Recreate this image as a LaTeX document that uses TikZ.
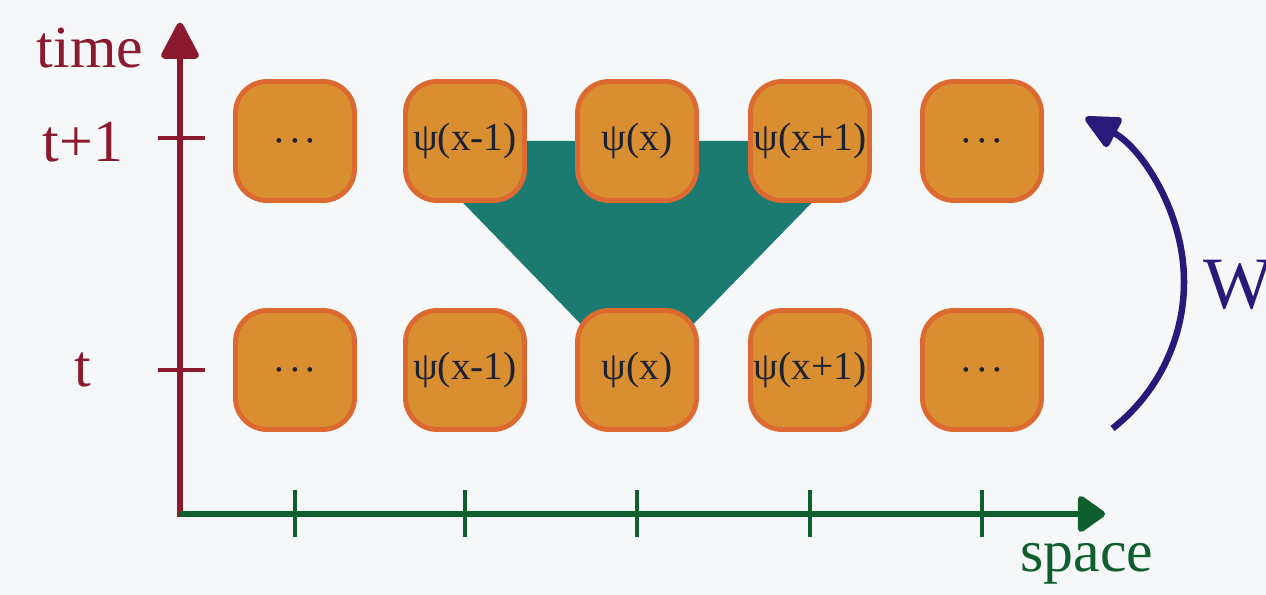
\documentclass[tikz,border=0pt]{standalone}
\usepackage{fontspec}
\setmainfont{Liberation Serif}
\usetikzlibrary{arrows.meta}
\definecolor{paper}{HTML}{F6F7F9}
\definecolor{timered}{HTML}{8B1A2E}
\definecolor{spacegreen}{HTML}{0F5F2E}
\definecolor{cellfill}{HTML}{D98E32}
\definecolor{celledge}{HTML}{DC6A30}
\definecolor{wedge}{HTML}{1C7B70}
\definecolor{walk}{HTML}{28197A}
\definecolor{ink}{HTML}{1E2230}
\pgfdeclarelayer{back}
\pgfsetlayers{back,main}
\newcommand{\celldots}{{\fontsize{17}{20}\selectfont\boldmath$\cdots$}}
\tikzset{
  cell/.style={draw=celledge, fill=cellfill, line width=2.8pt, rounded corners=18pt,
    minimum size=2.38cm, inner sep=0pt, text=ink, font=\fontsize{22.5}{26}\selectfont},
  axislabel/.style={font=\fontsize{34}{38}\selectfont},
  tick/.style={line width=2.8pt}
}

\begin{document}
\begin{tikzpicture}
\useasboundingbox (0,0) rectangle (25.32,11.9);
\coordinate (origin) at (3.6,1.62);
\coordinate (timeend) at (3.6,11.45);
\coordinate (spaceend) at (22.1,1.62);
% axes
\draw[timered, line width=3.8pt, -{Triangle[length=23pt,width=23pt,round]}] (3.6,1.55) -- (timeend);
\draw[spacegreen, line width=3.8pt, -{Triangle[length=17pt,width=23pt,round]}] (origin) -- (spaceend);
\node[axislabel, text=timered] (tlab) at (1.8,10.94) {time};
\node[axislabel, text=timered] (t1lab) at (1.66,9.06) {t+1};
\node[axislabel, text=timered] (t0lab) at (1.66,4.5) {t};
\node[axislabel, text=spacegreen] (slab) at (21.74,0.62) {space};
% ticks
\draw[timered, tick] (3.16,9.14) -- (4.1,9.14);
\draw[timered, tick] (3.16,4.5) -- (4.1,4.5);
\draw[spacegreen, tick, line width=1.8pt] (5.9,1.16) -- (5.9,2.1);
\draw[spacegreen, tick, line width=1.8pt] (9.3,1.16) -- (9.3,2.1);
\draw[spacegreen, tick, line width=1.8pt] (12.74,1.16) -- (12.74,2.1);
\draw[spacegreen, tick, line width=1.8pt] (16.2,1.16) -- (16.2,2.1);
\draw[spacegreen, tick, line width=1.8pt] (19.64,1.16) -- (19.64,2.1);
% cells at time t+1
\node[cell] (u1) at (5.9,9.08) {\celldots};
\node[cell] (u2) at (9.3,9.08) {ψ(x-1)};
\node[cell] (u3) at (12.74,9.08) {ψ(x)};
\node[cell] (u4) at (16.2,9.08) {ψ(x+1)};
\node[cell] (u5) at (19.64,9.08) {\celldots};
% cells at time t
\node[cell] (d1) at (5.9,4.5) {\celldots};
\node[cell] (d2) at (9.3,4.5) {ψ(x-1)};
\node[cell] (d3) at (12.74,4.5) {ψ(x)};
\node[cell] (d4) at (16.2,4.5) {ψ(x+1)};
\node[cell] (d5) at (19.64,4.5) {\celldots};
% light cone behind the cells
\coordinate (apex) at (12.74,4.26);
\begin{pgfonlayer}{back}
\fill[paper] (0,0) rectangle (25.32,11.9);
\fill[wedge] (u2.west) -- (u4.east) -- (apex) -- cycle;
\end{pgfonlayer}
% one step of the walk
\coordinate (wstart) at (22.25,3.33);
\draw[walk, line width=3.7pt, -{Triangle[length=22pt,width=20pt,round]}] (wstart) arc[start angle=-52, end angle=62, radius=3.72];
\node[walk, anchor=west, inner sep=0pt, font=\fontsize{42}{46}\selectfont] (wlab) at (24.06,6.2) {W};
\end{tikzpicture}
\end{document}
